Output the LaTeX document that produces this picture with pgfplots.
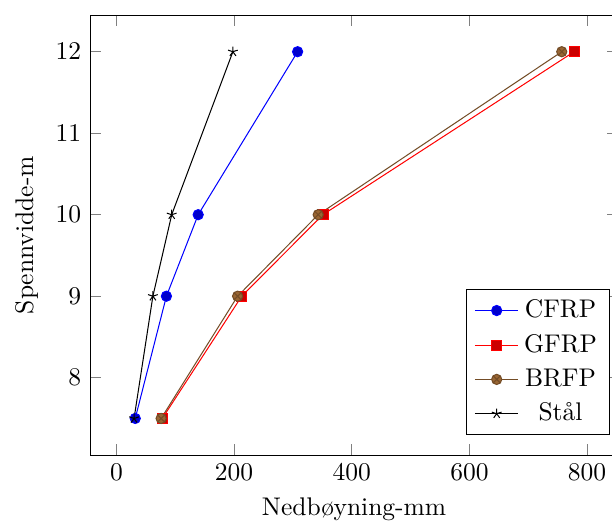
\documentclass[border=0pt]{standalone}
\usepackage{pgfplots}
\pgfplotsset{compat=1.18}
\begin{document}
\begin{tikzpicture}
\begin{axis}[
  scale only axis,
  width=207pt, height=172.5pt,
  xlabel={Nedbøyning-mm},
  ylabel={Spennvidde-m},
  legend style={at={(0.985,0.045)}, anchor=south east, row sep=1pt},
  legend cell align=center,
]
% deflection (mm) against span (m)
\addplot coordinates {(32,7.5) (85,9) (139,10) (308,12)};
\addlegendentry{CFRP}
\addplot coordinates {(78,7.5) (213,9) (351,10) (778,12)};
\addlegendentry{GFRP}
\addplot coordinates {(76,7.5) (206,9) (343,10) (757,12)};
\addlegendentry{BRFP}
\addplot coordinates {(30,7.5) (62,9) (94,10) (198,12)};
\addlegendentry{Stål}
\end{axis}
\pgfresetboundingbox
\useasboundingbox ([shift={(-35.3pt,-26.8pt)}]current axis.south west)
  rectangle ([shift={(-2.4pt,5.9pt)}]current axis.north east);
\end{tikzpicture}
\end{document}
